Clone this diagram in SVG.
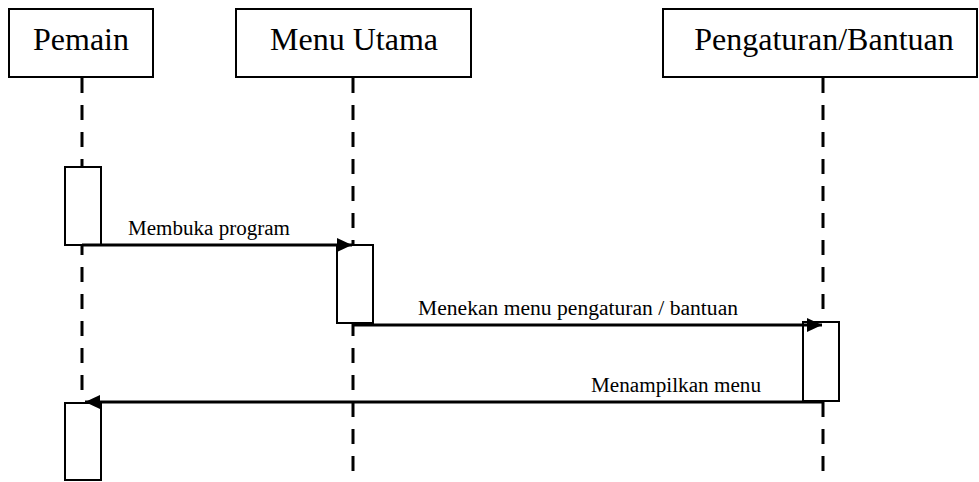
<svg xmlns="http://www.w3.org/2000/svg" width="979" height="482" viewBox="0 0 979 482">
  <style>
    .head { fill: #fff; stroke: #000; stroke-width: 2; }
    .head-text { font-family: "Liberation Serif", "Times New Roman", serif; font-size: 32px; fill: #000; text-anchor: middle; }
    .life { stroke: #000; stroke-width: 3; stroke-dasharray: 15 12; fill: none; }
    .act { fill: #fff; stroke: #000; stroke-width: 2; }
    .msg { stroke: #000; stroke-width: 3; fill: none; }
    .msg-text { font-family: "Liberation Serif", "Times New Roman", serif; font-size: 20px; fill: #000; }
  </style>
  <defs>
    <marker id="arrow" viewBox="0 0 15 14" refX="15" refY="7" markerWidth="15" markerHeight="14" markerUnits="userSpaceOnUse" orient="auto">
      <path d="M0,0 L15,7 L0,14 Z" fill="#000"/>
    </marker>
  </defs>

  <rect width="979" height="482" fill="#fff"/>

  <!-- lifelines -->
  <g id="lifelines">
    <line class="life" x1="82" y1="78" x2="82" y2="482"/>
    <line class="life" x1="353" y1="78" x2="353" y2="482"/>
    <line class="life" x1="823" y1="78" x2="823" y2="482"/>
  </g>

  <!-- participants -->
  <g id="pemain">
    <rect class="head" x="9" y="9" width="144" height="68"/>
    <text class="head-text" x="81" y="50">Pemain</text>
    <rect class="act" x="65" y="167" width="36" height="78"/>
    <rect class="act" x="65" y="403" width="36" height="77"/>
  </g>
  <g id="menu-utama">
    <rect class="head" x="236" y="9" width="235" height="68"/>
    <text class="head-text" x="354" y="50">Menu Utama</text>
    <rect class="act" x="337" y="245" width="36" height="78"/>
  </g>
  <g id="pengaturan-bantuan">
    <rect class="head" x="663" y="9" width="314" height="68"/>
    <text class="head-text" x="824" y="50">Pengaturan/Bantuan</text>
    <rect class="act" x="803" y="322" width="36" height="79"/>
  </g>

  <!-- messages -->
  <g id="connectors">
    <line class="msg" x1="82" y1="245" x2="352" y2="245" marker-end="url(#arrow)"/>
    <text class="msg-text" x="128" y="235" textLength="162" lengthAdjust="spacingAndGlyphs">Membuka program</text>

    <line class="msg" x1="353" y1="325" x2="822" y2="325" marker-end="url(#arrow)"/>
    <text class="msg-text" x="418" y="315" textLength="320" lengthAdjust="spacingAndGlyphs">Menekan menu pengaturan / bantuan</text>

    <line class="msg" x1="823" y1="402" x2="85" y2="402" marker-end="url(#arrow)"/>
    <text class="msg-text" x="591" y="392" textLength="170" lengthAdjust="spacingAndGlyphs">Menampilkan menu</text>
  </g>
</svg>
